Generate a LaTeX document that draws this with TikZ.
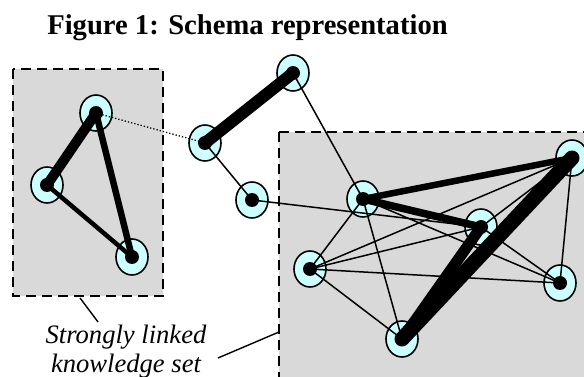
\documentclass[tikz,border=0pt]{standalone}
\usepackage{fontspec}
\setmainfont{Liberation Serif}
\usetikzlibrary{shapes.geometric}
\definecolor{setgray}{RGB}{217,217,217}
\definecolor{vertcyan}{RGB}{204,255,255}
\tikzset{
  setbox/.style={fill=setgray, draw=black, line width=1.5pt, dash pattern=on 10pt off 6pt},
  vert/.style={ellipse, draw=black, fill=vertcyan, line width=1.6pt, minimum width=32pt, minimum height=36pt, inner sep=0pt},
  link/.style={draw=black, line cap=round},
  weak/.style={link, line width=1.5pt},
  dotlink/.style={draw=black, line width=1.3pt, dotted},
  callout/.style={draw=black, line width=1.4pt},
  core/.style={fill=black}
}
\begin{document}
\begin{tikzpicture}[x=1pt,y=-1pt]
\useasboundingbox (0,0) rectangle (584,377);
\clip (0,0) rectangle (584,377);

% title
\node[anchor=base, font=\fontsize{28.6}{32}\selectfont\bfseries] (title) at (247.5,35) {Figure 1: Schema representation};

% knowledge sets
\draw[setbox] (13,69) rectangle (163,296);
\draw[setbox] (279,132) rectangle (600,400);

% label and its callouts
\node[anchor=base, font=\fontsize{26.6}{29}\selectfont\itshape] (lbl1) at (126,343) {Strongly linked};
\node[anchor=base, font=\fontsize{26.6}{29}\selectfont\itshape] (lbl2) at (126,372) {knowledge set};
\coordinate (cl1) at (80,298);
\coordinate (cl1e) at (98,322);
\coordinate (cr1) at (218,358);
\coordinate (cr1e) at (279,332);
\draw[callout] (cl1) -- (cl1e);
\draw[callout] (cr1) -- (cr1e);

% vertices
\foreach \n/\p in {A/{(96,113)}, B/{(47,185)}, C/{(132,257)},
                   E/{(293,73)}, D/{(205,143)}, F/{(252,200)},
                   G/{(363,199)}, H/{(572,158)}, I/{(481,227)},
                   J/{(310,269)}, K/{(560,283)}, L/{(402,339)}}
  \node[vert] (\n) at \p {};

% links of the small set
\draw[link, line width=10pt] (A.center) -- (B.center);
\draw[link, line width=6.5pt] (A.center) -- (C.center);
\draw[link, line width=4.5pt] (B.center) -- (C.center);
\draw[dotlink] (A.center) -- (D.center);

% links outside the sets
\draw[link, line width=12pt] (D.center) -- (E.center);
\draw[weak] (D.center) -- (F.center);
\draw[weak] (E.center) -- (G.center);
\draw[weak] (F.center) -- (I.center);

% links of the large set
\draw[weak] (G.center) -- (J.center);
\draw[weak] (G.center) -- (L.center);
\draw[weak] (G.center) -- (K.center);
\draw[weak] (J.center) -- (I.center);
\draw[weak] (J.center) -- (H.center);
\draw[weak] (J.center) -- (K.center);
\draw[weak] (J.center) -- (L.center);
\draw[weak] (I.center) -- (K.center);
\draw[weak] (I.center) -- (H.center);
\draw[weak] (H.center) -- (K.center);
\draw[link, line width=6.5pt] (G.center) -- (H.center);
\draw[link, line width=7.5pt] (G.center) -- (I.center);
\draw[link, line width=11pt] (I.center) -- (L.center);
\draw[link, line width=15pt] (H.center) -- (L.center);

% vertex cores
\foreach \n in {A,B,C,D,E,F,G,H,I,J,K,L}
  \fill[core] (\n.center) circle (7pt);
\end{tikzpicture}
\end{document}
